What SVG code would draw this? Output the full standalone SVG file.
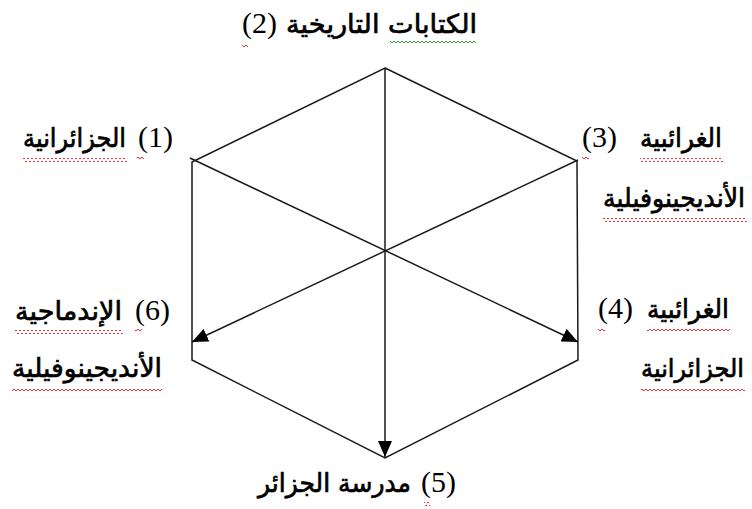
<svg xmlns="http://www.w3.org/2000/svg" width="752" height="509" viewBox="0 0 752 509">
<style>
  .edge{fill:none;stroke:#1a1a1a;stroke-width:1.5}
  .conn{fill:none;stroke:#1a1a1a;stroke-width:1.5}
  .num{font-family:"Liberation Serif","Times New Roman",serif;font-size:30px;fill:#000}
  .ar{font-family:"DejaVu Sans","Liberation Serif",sans-serif;font-size:26px;fill:#000;stroke:#000;stroke-width:0.7}
  .wr{fill:url(#wavyRed)}
  .wg{fill:url(#wavyGreen)}
</style>
<defs>
  <pattern id="wavyRed" width="4" height="4" patternUnits="userSpaceOnUse">
    <path d="M0,3 L2,1 L4,3" fill="none" stroke="#f03030" stroke-width="1"/>
  </pattern>
  <pattern id="wavyGreen" width="4" height="4" patternUnits="userSpaceOnUse">
    <path d="M0,3 L2,1 L4,3" fill="none" stroke="#30a030" stroke-width="1"/>
  </pattern>
  <marker id="arrow" markerUnits="userSpaceOnUse" markerWidth="16" markerHeight="14" refX="16" refY="7" orient="auto">
    <path d="M0,0 L16,7 L0,14 z" fill="#000"/>
  </marker>
</defs>
<rect width="752" height="509" fill="#fff"/>

<g id="hexagon">
  <polygon class="edge" points="385,68 577,161 578,360 385,458 192,360 192,162"/>
</g>

<g id="connectors">
  <line class="conn" x1="385" y1="68" x2="385" y2="457" marker-end="url(#arrow)"/>
  <line class="conn" x1="190" y1="158" x2="578" y2="342" marker-end="url(#arrow)"/>
  <line class="conn" x1="578" y1="160" x2="192" y2="342" marker-end="url(#arrow)"/>
</g>

<g id="node2">
  <text class="num" x="242" y="33">(2)</text>
  <text class="ar" x="286" y="33" textLength="191" lengthAdjust="spacingAndGlyphs">الكتابات التاريخية</text>
  <rect class="wg" x="390" y="40" width="86" height="4"/>
  <rect class="wr" x="242" y="43" width="6" height="4"/>
</g>

<g id="node1">
  <text class="num" x="138" y="147">(1)</text>
  <text class="ar" x="23" y="147" textLength="103" lengthAdjust="spacingAndGlyphs">الجزائرانية</text>
  <rect class="wr" x="23" y="158" width="104" height="4"/>
  <rect class="wr" x="137" y="157" width="7" height="4"/>
</g>

<g id="node3">
  <text class="num" x="582" y="147">(3)</text>
  <text class="ar" x="640" y="147" textLength="82" lengthAdjust="spacingAndGlyphs">الغرائبية</text>
  <text class="ar" x="603" y="207" textLength="142" lengthAdjust="spacingAndGlyphs">الأنديجينوفيلية</text>
  <rect class="wr" x="640" y="158" width="83" height="4"/>
  <rect class="wr" x="582" y="157" width="7" height="4"/>
  <rect class="wr" x="603" y="218" width="144" height="4"/>
</g>

<g id="node4">
  <text class="num" x="598" y="318">(4)</text>
  <text class="ar" x="647" y="318" textLength="82" lengthAdjust="spacingAndGlyphs">الغرائبية</text>
  <text class="ar" x="641" y="377" textLength="103" lengthAdjust="spacingAndGlyphs" style="font-size:25px">الجزائرانية</text>
  <rect class="wr" x="641" y="389" width="104" height="4"/>
  <rect class="wr" x="647" y="329" width="83" height="4"/>
  <rect class="wr" x="598" y="328" width="7" height="4"/>
</g>

<g id="node6">
  <text class="num" x="135" y="320">(6)</text>
  <text class="ar" x="15" y="320" textLength="107" lengthAdjust="spacingAndGlyphs">الإندماجية</text>
  <text class="ar" x="12" y="377" textLength="150" lengthAdjust="spacingAndGlyphs">الأنديجينوفيلية</text>
  <rect class="wr" x="15" y="330" width="108" height="4"/>
  <rect class="wr" x="135" y="329" width="7" height="4"/>
  <rect class="wr" x="12" y="389" width="150" height="4"/>
</g>

<g id="node5">
  <text class="num" x="421" y="492">(5)</text>
  <text class="ar" x="258" y="492" textLength="153" lengthAdjust="spacingAndGlyphs">مدرسة الجزائر</text>
  <rect class="wr" x="424" y="502" width="6" height="4"/>
</g>
</svg>
